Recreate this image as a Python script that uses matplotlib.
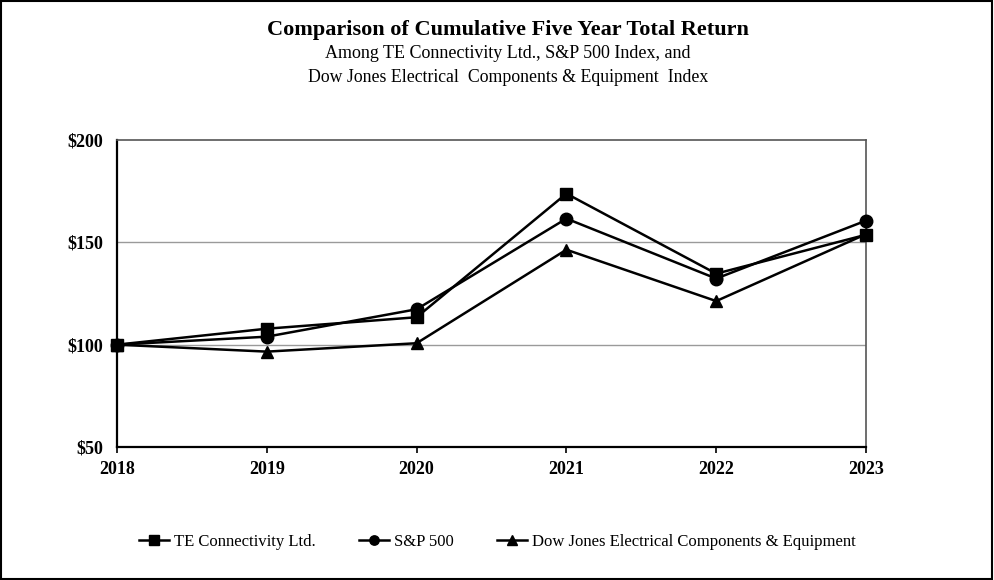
import matplotlib.pyplot as plt

# data
years = ['2018', '2019', '2020', '2021', '2022', '2023']
te_connectivity = [100, 107.8, 113.4, 173.8, 134.7, 153.7]
sp500 = [100, 103.9, 117.3, 161.6, 132.3, 160.6]
dow_jones_elec = [100, 96.6, 100.7, 146.4, 121.3, 154.0]
y_ticks = [50, 100, 150, 200]

plt.rcParams['font.family'] = ['Liberation Serif', 'DejaVu Serif']

fig = plt.figure(figsize=(9.94, 5.80), dpi=100)
ax = fig.add_axes([117 / 994, 1 - 447 / 580, (866 - 117) / 994, (447 - 140) / 580])

x = range(len(years))
ax.plot(x, te_connectivity, marker='s', markersize=9, color='black', lw=1.8,
        label='TE Connectivity Ltd.', zorder=3, clip_on=False)
ax.plot(x, sp500, marker='o', markersize=9, color='black', lw=1.8,
        label='S&P 500', zorder=3, clip_on=False)
ax.plot(x, dow_jones_elec, marker='^', markersize=9, color='black', lw=1.8,
        label='Dow Jones Electrical Components & Equipment', zorder=3, clip_on=False)

ax.set_xlim(0, len(years) - 1)
ax.set_ylim(50, 200)
ax.set_xticks(list(x))
ax.set_xticklabels(years, fontsize=13, fontweight='bold')
ax.set_yticks(y_ticks)
ax.set_yticklabels(['$%d' % v for v in y_ticks], fontsize=13, fontweight='bold')
ax.tick_params(axis='y', length=0, pad=10)
ax.tick_params(axis='x', length=4, width=1.2, direction='out', pad=6)

# gridlines
for v in [100, 150]:
    ax.axhline(v, color='#9a9a9a', lw=1, zorder=1)

ax.spines['left'].set_linewidth(1.6)
ax.spines['bottom'].set_linewidth(1.6)
ax.spines['top'].set_color('#555555')
ax.spines['right'].set_color('#555555')
ax.spines['top'].set_linewidth(1.2)
ax.spines['right'].set_linewidth(1.2)

# titles sit a bit right of centre in the original
cx = 508 / 994
fig.text(cx, 1 - 30 / 580, 'Comparison of Cumulative Five Year Total Return',
         ha='center', va='center', fontsize=16, fontweight='bold')
fig.text(cx, 1 - 53 / 580, 'Among TE Connectivity Ltd., S&P 500 Index, and',
         ha='center', va='center', fontsize=13)
fig.text(cx, 1 - 77 / 580, 'Dow Jones Electrical  Components & Equipment  Index',
         ha='center', va='center', fontsize=12.8)

fig.legend(loc='center', bbox_to_anchor=(0.5, 1 - 542 / 580), ncol=3, frameon=False,
           fontsize=12, markerscale=0.75, handlelength=1.8, handletextpad=0.3,
           columnspacing=2.6)

# outer frame
fig.patches.append(plt.Rectangle((0.001, 0.002), 0.997, 0.996, transform=fig.transFigure,
                                 fill=False, edgecolor='black', lw=1.5))

fig.savefig('out.png', dpi=100)
